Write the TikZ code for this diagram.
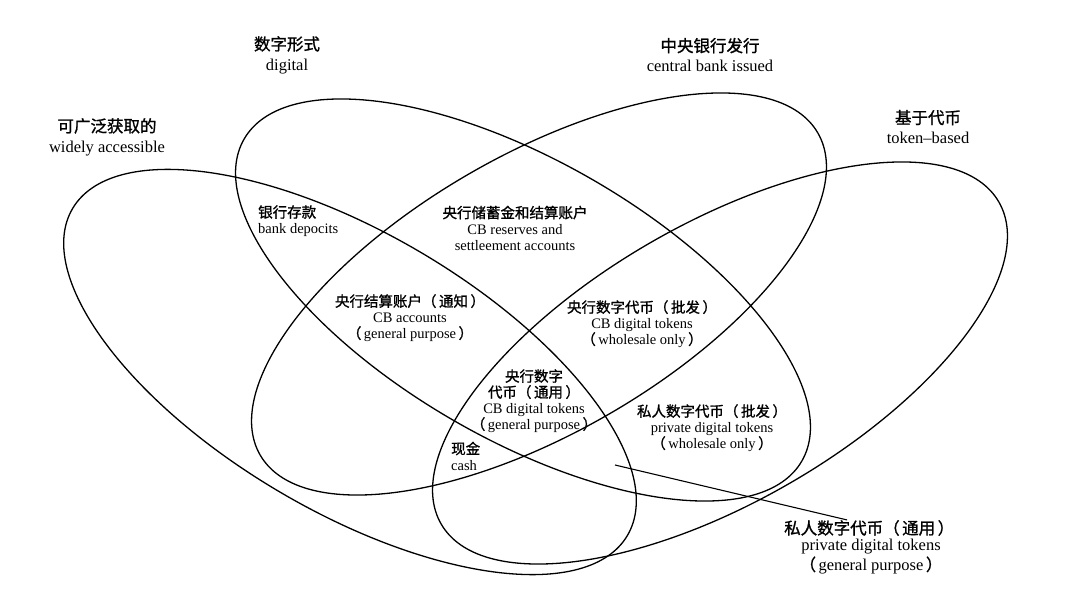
\documentclass[tikz,border=0pt]{standalone}
\usepackage{fontspec}
\setmainfont{Liberation Serif}
\newfontfamily\cjk{Noto Sans CJK SC}[FakeBold=1.2,AutoFakeBold=1.2]
\newcommand{\lp}{{\cjk （}\hspace{2.5pt}}
\newcommand{\rp}{\hspace{2.5pt}{\cjk ）}}
\usetikzlibrary{shapes.geometric}
\begin{document}
\begin{tikzpicture}[x=1pt,y=-1pt,
  petal/.style={draw, ellipse, line width=1.3pt, minimum width=644pt, minimum height=278pt, inner sep=0pt},
  cat/.style={align=center, inner sep=0pt, font=\fontsize{16.5}{20}\selectfont},
  reg/.style={align=center, inner sep=0pt, font=\fontsize{14.5}{16}\selectfont},
  pointer/.style={line width=1.1pt}]
\useasboundingbox (0,0) rectangle (1080,607);
% petals
\node[petal, rotate=-30.5] (wa) at (350,372) {};
\node[petal, rotate=-30] (dig) at (523,300) {};
\node[petal, rotate=30] (cb) at (539,294) {};
\node[petal, rotate=30] (tok) at (720,363) {};
% category labels
\node[cat] (lwa) at (107,137) {{\cjk 可广泛获取的}\\widely accessible};
\node[cat] (ldig) at (287,55) {{\cjk 数字形式}\\digital};
\node[cat] (lcb) at (710,55) {{\cjk 中央银行发行}\\central bank issued};
\node[cat] (ltok) at (928,127) {{\cjk 基于代币}\\token–based};
% region labels
\node[reg, align=left, anchor=west] (bank) at (258,221) {{\cjk 银行存款}\\bank depocits};
\node[reg] (cbres) at (515,228) {{\cjk 央行储蓄金和结算账户}\\CB reserves and\\settleement accounts};
\node[reg] (cbacc) at (410,318) {{\cjk 央行结算账户\lp 通知\rp}\\CB accounts\\\lp general purpose\rp};
\node[reg] (cbwh) at (642,324) {{\cjk 央行数字代币\lp 批发\rp}\\CB digital tokens\\\lp wholesale only\rp};
\node[reg] (cbgp) at (534,401) {{\cjk 央行数字}\\{\cjk 代币\lp 通用\rp}\\CB digital tokens\\\lp general purpose\rp};
\node[reg] (pwh) at (712,428) {{\cjk 私人数字代币\lp 批发\rp}\\private digital tokens\\\lp wholesale only\rp};
\node[reg, align=left, anchor=west] (cash) at (451,456) {{\cjk 现金}\\cash};
% outside label with pointer
\node[cat, anchor=west] (pgpcn) at (784,528) {\cjk 私人数字代币\lp 通用\rp};
\node[cat, anchor=north] (pgpen) at (871,539) {private digital tokens\\\lp general purpose\rp};
\coordinate (ptr) at (615,465);
\draw[pointer] (ptr) -- (pgpcn.160);
\end{tikzpicture}
\end{document}
